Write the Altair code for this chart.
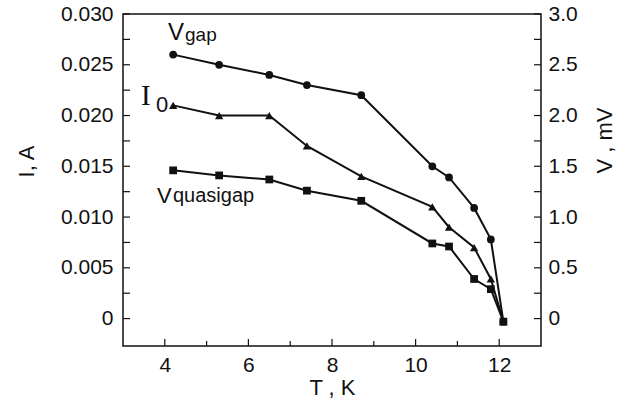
import altair as alt
import pandas as pd

# ---- data ----
T = [4.2, 5.3, 6.5, 7.4, 8.7, 10.4, 10.8, 11.4, 11.8, 12.1]
I0_A = [0.021, 0.020, 0.020, 0.017, 0.014, 0.011, 0.009, 0.007, 0.0039, -0.0003]
Vgap_mV = [2.6, 2.5, 2.4, 2.3, 2.2, 1.5, 1.39, 1.09, 0.78, -0.03]
Vquasi_mV = [1.46, 1.41, 1.37, 1.26, 1.16, 0.74, 0.71, 0.39, 0.29, -0.03]

x_major = [4, 6, 8, 10, 12]
x_minor = [5, 7, 9, 11]
i_ticks = [0, 0.005, 0.010, 0.015, 0.020, 0.025, 0.030]
i_minor = [0.0025, 0.0075, 0.0125, 0.0175, 0.0225, 0.0275]
v_ticks = [0, 0.5, 1.0, 1.5, 2.0, 2.5, 3.0]
v_minor = [0.25, 0.75, 1.25, 1.75, 2.25, 2.75]

x_domain = [3, 13]
i_domain = [-0.0027, 0.030]
v_domain = [-0.27, 3.0]

W, H = 418, 332
FONT = "Liberation Sans"
INK = "#111111"

df_i = pd.DataFrame({"T": T, "I": I0_A})
df_v = pd.DataFrame({
    "T": T + T,
    "V": Vgap_mV + Vquasi_mV,
    "series": ["Vgap"] * len(T) + ["Vquasigap"] * len(T),
})

xs = alt.Scale(domain=x_domain, nice=False, zero=False)
x_enc = alt.X("T:Q", scale=xs,
              axis=alt.Axis(values=x_major, title="T , K", ticks=False, domain=False,
                            grid=False, labelPadding=8, titlePadding=2))

i_axis = alt.Axis(values=i_ticks, title="I, A", ticks=False, domain=False, grid=False,
                  labelExpr="datum.value == 0 ? '0' : format(datum.value, '.3f')",
                  labelPadding=10, titleX=-97, titleY=147, titleAngle=270,
                  titleAlign="center", titleBaseline="middle")
i_scale = alt.Scale(domain=i_domain, nice=False, zero=False)

v_axis = alt.Axis(values=v_ticks, title="V , mV", orient="right", ticks=False, domain=False,
                  grid=False, labelExpr="datum.value == 0 ? '0' : format(datum.value, '.1f')",
                  labelPadding=7, titleX=63, titleY=126, titleAngle=270,
                  titleAlign="center", titleBaseline="middle")
v_scale = alt.Scale(domain=v_domain, nice=False, zero=False)

# ---- current (left axis) group ----
i_line = alt.Chart(df_i).mark_line(color=INK, strokeWidth=2).encode(
    x=x_enc, y=alt.Y("I:Q", scale=i_scale, axis=i_axis))
i_pts = alt.Chart(df_i).mark_point(shape="triangle-up", filled=True, color=INK, size=70,
                                   opacity=1).encode(
    x=x_enc, y=alt.Y("I:Q", scale=i_scale, axis=i_axis))

tick_df_left = pd.DataFrame({"I": i_ticks + i_minor})
left_ticks = alt.Chart(tick_df_left).mark_rule(color=INK, strokeWidth=1.2).encode(
    y=alt.Y("I:Q", scale=i_scale, axis=i_axis), x=alt.value(0), x2=alt.value(7))

xt_df = pd.DataFrame({"T": x_major})
xt_minor_df = pd.DataFrame({"T": x_minor})
x_ticks = alt.Chart(xt_df).mark_rule(color=INK, strokeWidth=1.2).encode(
    x=x_enc, y=alt.value(H), y2=alt.value(H - 7))
x_ticks_minor = alt.Chart(xt_minor_df).mark_rule(color=INK, strokeWidth=1.2).encode(
    x=x_enc, y=alt.value(H), y2=alt.value(H - 5))

i_group = alt.layer(left_ticks, x_ticks, x_ticks_minor, i_line, i_pts)

# ---- voltage (right axis) group ----
v_line = alt.Chart(df_v).mark_line(color=INK, strokeWidth=2).encode(
    x=x_enc, y=alt.Y("V:Q", scale=v_scale, axis=v_axis), detail="series:N")
v_pts = alt.Chart(df_v).mark_point(filled=True, color=INK, opacity=1).encode(
    x=x_enc, y=alt.Y("V:Q", scale=v_scale, axis=v_axis),
    shape=alt.Shape("series:N", scale=alt.Scale(domain=["Vgap", "Vquasigap"],
                                                range=["circle", "square"]), legend=None),
    size=alt.Size("series:N", scale=alt.Scale(domain=["Vgap", "Vquasigap"],
                                              range=[60, 60]), legend=None))
tick_df_right = pd.DataFrame({"V": v_ticks + v_minor})
right_ticks = alt.Chart(tick_df_right).mark_rule(color=INK, strokeWidth=1.2).encode(
    y=alt.Y("V:Q", scale=v_scale, axis=v_axis), x=alt.value(W), x2=alt.value(W - 7))

v_group = alt.layer(right_ticks, v_line, v_pts)

# ---- series labels ----
labels = ["V", "gap", "I", "0", "V", "quasigap"]

def label(txt, px, py, size, font=FONT):
    return alt.Chart(pd.DataFrame({"t": [txt]})).mark_text(
        align="left", baseline="alphabetic", font=font, fontSize=size, color=INK
    ).encode(text="t:N", x=alt.value(px), y=alt.value(py))

texts = alt.layer(
    label(labels[0], 45, 26, 24),
    label(labels[1], 62, 27, 19),
    label(labels[2], 18, 91, 29, "Liberation Serif"),
    label(labels[3], 33, 98, 22),
    label(labels[4], 34, 189, 22),
    label(labels[5], 50, 188, 20),
)

chart = alt.layer(i_group, v_group, texts).resolve_scale(y="independent").properties(
    width=W, height=H,
    background="white",
    autosize=alt.AutoSizeParams(type="none"),
    padding={"left": 123, "top": 14, "right": 82, "bottom": 63},
).configure_view(stroke=INK, strokeWidth=1.5).configure_axis(
    labelFont=FONT, labelFontSize=21, labelColor=INK,
    titleFont=FONT, titleFontSize=22, titleFontWeight="normal", titleColor=INK,
)

chart.save("out.html", embed_options={"renderer": "svg", "actions": False})
